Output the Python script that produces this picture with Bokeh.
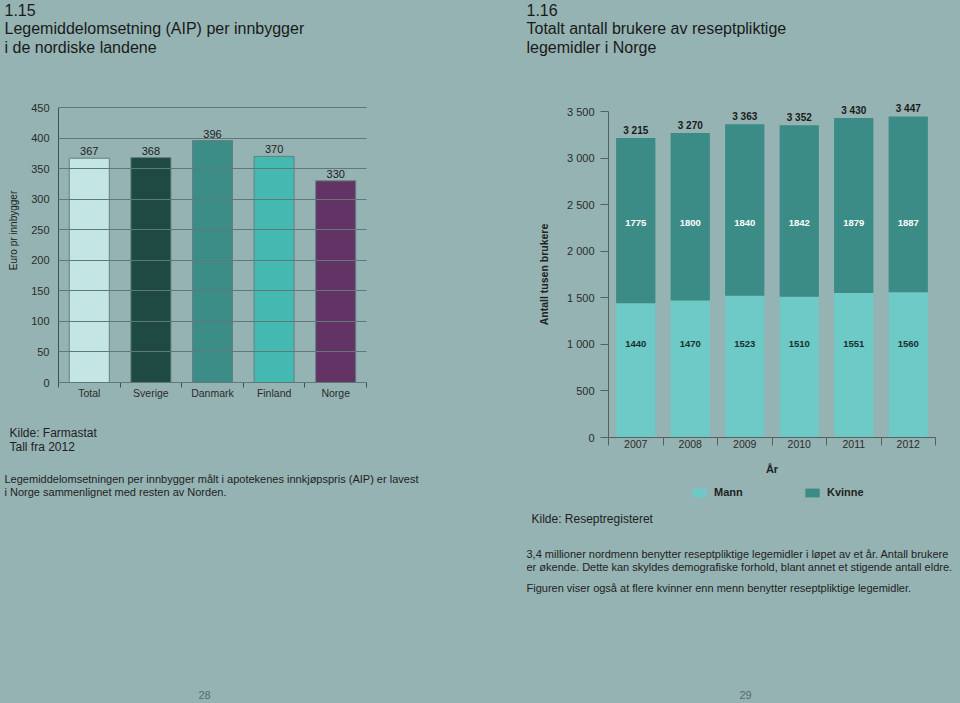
import math
from bokeh.plotting import figure
from bokeh.models import (ColumnDataSource, LabelSet, Label, Range1d,
                          FixedTicker, SingleIntervalTicker)
from bokeh.layouts import row
from bokeh.core.properties import value
from bokeh.embed import file_html
from bokeh.resources import INLINE

BG = "#95b3b3"
FONT = "Liberation Sans"
TXT = "#222222"
W, H = 480, 703

# ---------------- data: chart 1.15 ----------------
countries = ["Total", "Sverige", "Danmark", "Finland", "Norge"]
euro_per_capita = [367, 368, 396, 370, 330]
country_colors = ["#c3e5e4", "#1f4a43", "#3c8c87", "#43b9b2", "#633366"]
left_y_max = 450

# ---------------- data: chart 1.16 ----------------
years = ["2007", "2008", "2009", "2010", "2011", "2012"]
mann = [1440, 1470, 1523, 1510, 1551, 1560]
kvinne = [1775, 1800, 1840, 1842, 1879, 1887]
right_ticks = [0, 500, 1000, 1500, 2000, 2500, 3000, 3500]
right_tick_labels = ["0", "500", "1 000", "1 500", "2 000", "2 500", "3 000", "3 500"]
series_names = ["Mann", "Kvinne"]
series_colors = ["#6dcac7", "#3b8b86"]


def fmt_space(v):
    return f"{v:,}".replace(",", " ")


def slot_centers(cats):
    return [i + 0.5 for i in range(len(cats))]


def area_ranges(left, top, right, bottom, n_slots, y_max):
    """Ranges so that the data box [0,n_slots]x[0,y_max] lands on the given pixel box
    of a W x H figure whose frame covers the whole figure."""
    sx = (right - left) / n_slots
    sy = (bottom - top) / y_max
    xr = Range1d(-left / sx, (W - left) / sx)
    yr = Range1d(-(H - bottom) / sy, y_max + top / sy)
    return xr, yr


def new_fig(xr, yr):
    p = figure(width=W, height=H, x_range=xr, y_range=yr, output_backend="svg",
               toolbar_location=None, min_border=0)
    p.min_border_left = p.min_border_right = p.min_border_top = p.min_border_bottom = 0
    p.background_fill_color = BG
    p.border_fill_color = BG
    p.outline_line_color = None
    p.grid.visible = False
    return p


def page_label(p, x0, X, Y, text, size="11px", color=TXT, style="normal", align="left", angle=0):
    p.add_layout(Label(x=X - x0, y=H - Y, x_units="screen", y_units="screen", text=text,
                       text_font=FONT, text_font_size=size, text_color=color,
                       text_font_style=style, text_align=align, text_baseline="middle",
                       angle=angle))


def category_axis(ax, cats, tick_len, color, standoff):
    centers = slot_centers(cats)
    ax.fixed_location = 0
    ax.bounds = (0, len(cats))
    ax.ticker = FixedTicker(ticks=centers, minor_ticks=list(range(len(cats) + 1)))
    ax.major_label_overrides = {c: name for c, name in zip(centers, cats)}
    ax.major_tick_line_color = None
    ax.major_tick_out = 0
    ax.major_tick_in = 0
    ax.minor_tick_out = tick_len
    ax.minor_tick_in = 0
    ax.minor_tick_line_color = color
    ax.axis_line_color = color
    ax.major_label_standoff = standoff
    ax.major_label_text_font = FONT
    ax.major_label_text_font_size = "10.5px"
    ax.major_label_text_color = "#2b2b2b"


# ================= left figure (page x 0..480) =================
L_AREA = (58, 107, 366, 382)
xr1, yr1 = area_ranges(*L_AREA, len(countries), left_y_max)
p1 = new_fig(xr1, yr1)

src1 = ColumnDataSource(dict(x=slot_centers(countries), cat=countries, val=euro_per_capita,
                             color=country_colors, lbl=[str(v) for v in euro_per_capita]))

# y axis; its inward ticks serve as the horizontal grid lines
ya1 = p1.yaxis[0]
ya1.fixed_location = 0
ya1.bounds = (0, left_y_max)
ya1.ticker = SingleIntervalTicker(interval=50)
ya1.axis_line_color = "#444f4f"
ya1.major_tick_line_color = "#5f7878"
ya1.major_tick_out = 0
ya1.major_tick_in = L_AREA[2] - L_AREA[0]
ya1.minor_tick_line_color = None
ya1.major_label_standoff = 5
ya1.major_label_text_font = FONT
ya1.major_label_text_font_size = "11px"
ya1.major_label_text_color = "#2b2b2b"

p1.vbar(x="x", top="val", width=0.65, fill_color="color", line_color="#62807f",
        line_width=1, source=src1)
p1.add_layout(LabelSet(x="x", y="val", text="lbl", source=src1, y_offset=3,
                       text_align="center", text_baseline="bottom",
                       text_font=value(FONT), text_font_size="11px", text_color="#1c1c1c"))

category_axis(p1.xaxis[0], countries, 5, "#444f4f", -1)

page_label(p1, 0, 13, 230, "Euro pr innbygger", size="10px", align="center", angle=math.pi / 2)
page_label(p1, 0, 4, 9, "1.15", size="16px", color="#1a1a1a")
page_label(p1, 0, 4, 28, "Legemiddelomsetning (AIP) per innbygger", size="16px", color="#1a1a1a")
page_label(p1, 0, 4, 47, "i de nordiske landene", size="16px", color="#1a1a1a")
page_label(p1, 0, 9, 432, "Kilde: Farmastat", size="12px")
page_label(p1, 0, 9, 446, "Tall fra 2012", size="12px")
page_label(p1, 0, 4, 478, "Legemiddelomsetningen per innbygger målt i apotekenes innkjøpspris (AIP) er lavest")
page_label(p1, 0, 4, 491, "i Norge sammenlignet med resten av Norden.")
page_label(p1, 0, 204, 694, "28", color="#556b6b", align="center")

# ================= right figure (page x 480..960) =================
X0 = 480
R_AREA = (608 - X0, 111, 935 - X0, 437)
xr2, yr2 = area_ranges(*R_AREA, len(years), right_ticks[-1])
p2 = new_fig(xr2, yr2)

totals = [m + k for m, k in zip(mann, kvinne)]
src2 = ColumnDataSource(dict(x=slot_centers(years), year=years, Mann=mann, Kvinne=kvinne,
                             total=totals, tot_lbl=[fmt_space(t) for t in totals],
                             m_lbl=[str(v) for v in mann], k_lbl=[str(v) for v in kvinne]))
p2.vbar_stack(series_names, x="x", width=0.72, color=series_colors, line_color=None,
              source=src2, legend_label=series_names)

p2.add_layout(LabelSet(x="x", y="total", text="tot_lbl", source=src2, y_offset=2,
                       text_align="center", text_baseline="bottom", text_font=value(FONT),
                       text_font_size="10px", text_font_style="bold", text_color="#1a1a1a"))
p2.add_layout(LabelSet(x="x", y=2300, text="k_lbl", source=src2,
                       text_align="center", text_baseline="middle", text_font=value(FONT),
                       text_font_size="9.5px", text_font_style="bold", text_color="#ffffff"))
p2.add_layout(LabelSet(x="x", y=1000, text="m_lbl", source=src2,
                       text_align="center", text_baseline="middle", text_font=value(FONT),
                       text_font_size="9.5px", text_font_style="bold", text_color="#17302e"))

xa2 = p2.xaxis[0]
category_axis(xa2, years, 8, "#55605f", -6)
xa2.axis_label = "År"
xa2.axis_label_text_font = FONT
xa2.axis_label_text_font_size = "11px"
xa2.axis_label_text_font_style = "bold"
xa2.axis_label_text_color = TXT
xa2.axis_label_standoff = 12

ya2 = p2.yaxis[0]
ya2.fixed_location = 0
ya2.bounds = (0, right_ticks[-1])
ya2.ticker = FixedTicker(ticks=right_ticks)
ya2.major_label_overrides = dict(zip(right_ticks, right_tick_labels))
ya2.axis_line_color = "#55605f"
ya2.major_tick_line_color = "#55605f"
ya2.major_tick_out = 8
ya2.major_tick_in = 0
ya2.minor_tick_line_color = None
ya2.major_label_standoff = 6
ya2.major_label_text_font = FONT
ya2.major_label_text_font_size = "11px"
ya2.major_label_text_color = "#2b2b2b"
ya2.axis_label = "Antall tusen brukere"
ya2.axis_label_text_font = FONT
ya2.axis_label_text_font_size = "10.5px"
ya2.axis_label_text_font_style = "bold"
ya2.axis_label_text_color = TXT
ya2.axis_label_standoff = 14

lg = p2.legend[0]
lg.orientation = "horizontal"
lg.location = (690 - X0, H - 498)
lg.background_fill_alpha = 0
lg.border_line_color = None
lg.padding = 0
lg.margin = 0
lg.spacing = 0
lg.glyph_width = 18
lg.glyph_height = 11
lg.label_height = 11
lg.label_width = 89
lg.label_standoff = 6
lg.label_text_font = FONT
lg.label_text_font_size = "11px"
lg.label_text_font_style = "bold"
lg.label_text_color = TXT

page_label(p2, X0, 526, 9, "1.16", size="16px", color="#1a1a1a")
page_label(p2, X0, 526, 28, "Totalt antall brukere av reseptpliktige", size="16px", color="#1a1a1a")
page_label(p2, X0, 526, 47, "legemidler i Norge", size="16px", color="#1a1a1a")
page_label(p2, X0, 531, 518, "Kilde: Reseptregisteret", size="12px")
page_label(p2, X0, 526, 553, "3,4 millioner nordmenn benytter reseptpliktige legemidler i løpet av et år. Antall brukere")
page_label(p2, X0, 526, 566, "er økende. Dette kan skyldes demografiske forhold, blant annet et stigende antall eldre.")
page_label(p2, X0, 526, 587, "Figuren viser også at flere kvinner enn menn benytter reseptpliktige legemidler.")
page_label(p2, X0, 745, 694, "29", color="#556b6b", align="center")

layout = row(p1, p2, spacing=0)
html = file_html(layout, INLINE, title="Legemidler")
html = html.replace("</head>",
                    "<style>html,body{margin:0;padding:0;background:#95b3b3;overflow:hidden;}</style></head>", 1)
open("out.html", "w").write(html)
